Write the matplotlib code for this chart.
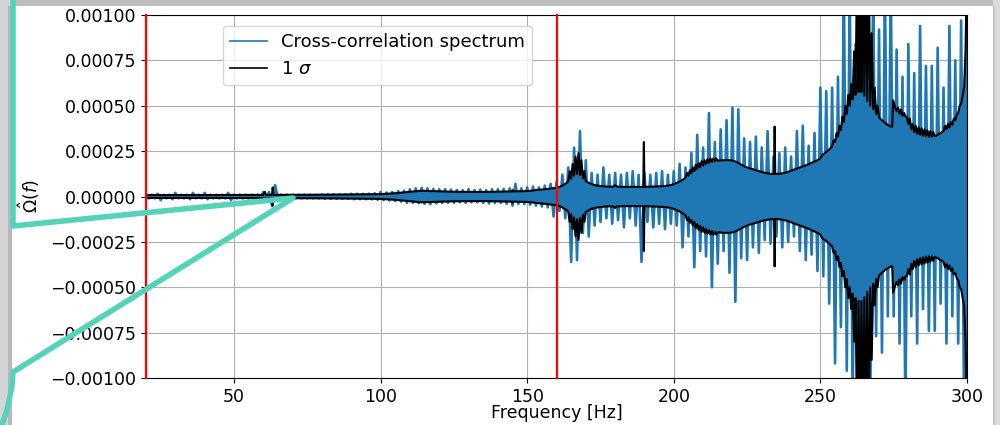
import numpy as np
import matplotlib
matplotlib.use("Agg")
import matplotlib.pyplot as plt
from matplotlib.lines import Line2D
from matplotlib.patches import Rectangle
from matplotlib.ticker import FuncFormatter

# frequency bins of the spectrum, 1 Hz apart
freq = np.arange(20, 301)

# cross-correlation spectrum (units of 1e-5)
spec = [
    1, -1, 1, -1, 1.5, -2, 1, -1, 1, -1.5,
    2, -1, 1, -1, 1, -1.5, 2, -1, 1, -1,
    2, -1.5, 1, -1, 1, -1, 1, -1, 2, -2,
    1, -1, 1, -1, 1, -1, 1, -1, 1, -1,
    2.5, -1, 2.5, -5.2, 6.3, -1, 1, -1, 1, -1,
    1, -1, 1, -1, 1, -1, 1, -1, 1, -1,
    1.2, -1.2, 1.2, -1.2, 1.2, -1.2, 1.2, -1.2, 1.2, -1.2,
    1.5, -1.5, 1.5, -1.5, 1.5, -1.5, 1.6, -1.6, 1.8, -1.8,
    2.5, -2, 2.2, -2.2, 2.5, -2.5, 3, -2.8, 3.2, -3.5,
    4, -3.5, 4.5, -3.7, 4.7, -4, 4.5, -4.2, 4.2, -3.8,
    4, -3.5, 4, -3.5, 3.8, -3.5, 3.6, -3.2, 3.5, -3.5,
    4, -3.2, 3.5, -3.2, 3.8, -3.5, 3.5, -3.8, 4, -3.5,
    4, -3.5, 4.2, -4, 4.5, -5, 7, -4, 4.5, -4.2,
    5, -4.5, 5.5, -5, 5, -5.5, 6, -6, 7, -11,
    8, -8, 12, -12, 16, -36, 27, -35, 36, -20,
    20, -22, 13, -16, 12, -14, 16, -12, 12, -15,
    13, -13, 12, -17, 13, -12, 14, -16, 12, -36,
    13, -14, 12, -17, 13, -15, 14, -18, 12, -15,
    14, -16, 18, -28, 16, -22, 24, -39, 34, -30,
    27, -33, 46, -50, 30, -37, 37, -30, 42, -42,
    49, -58, 48, -34, 32, -35, 30, -28, 33, -31,
    27, -24, 36, -26, 22, -22, 24, -28, 27, -25,
    22, -22, 36, -30, 39, -35, 28, -32, 35, -41,
    60, -44, 58, -59, 60, -92, 66, -72, 120, -96,
    120, -120, 84, -120, 120, -120, 120, -120, 120, -77,
    92, -86, 120, -66, 120, -66, 81, -81, 66, -120,
    84, -66, 68, -81, 94, -62, 72, -74, 72, -74,
    82, -59, 60, -81, 94, -66, 75, -81, 97, -120,
    120,
]

# 1 sigma curve (units of 1e-5), drawn as +/- sigma
sig_f = [20, 40, 60, 60.5, 61, 63, 63.2, 63.5, 80, 100, 105, 110, 114, 118, 125, 135, 144.8, 145, 145.2,
         150, 152, 154, 156, 158, 160, 161, 162, 163, 164,
         164.5, 165, 165.5, 166, 166.5, 167, 167.5, 168, 168.5, 169, 169.5, 170,
         171, 172, 173, 174, 176, 178, 179.5, 180, 180.5, 183, 189.6, 189.8, 190.0,
         192, 195, 197, 198, 199, 200, 201, 202, 203, 204,
         204.5, 205, 205.5, 206, 206.5, 207, 207.5, 208, 208.5, 209, 209.5,
         210, 210.5, 211, 211.5, 212, 212.5, 213, 213.5, 214, 214.5, 215,
         216, 217, 219, 220, 221, 222, 223, 224, 225, 226, 227, 228, 229, 230,
         231, 232, 233, 234.2, 234.4, 234.6, 236, 237, 238, 239, 240, 242, 244,
         246, 248, 249, 250, 250.7, 252, 253, 254,
         254.5, 255, 255.5, 256, 256.5, 257, 257.5, 258, 258.5, 259, 259.5,
         260, 260.5, 261, 261.5, 262, 262.5, 263, 263.5, 264, 264.5, 265,
         265.5, 266, 266.5, 267, 267.5, 268, 268.5, 269, 269.5, 270,
         271, 272, 273, 274, 274.5, 274.8, 275.5, 276, 276.5, 277,
         277.5, 278, 278.6, 279, 279.5, 280, 280.5, 281, 281.5, 282,
         282.5, 283, 283.5, 284, 284.5, 285, 285.5, 286, 286.5, 287,
         287.5, 288, 288.5, 289, 290, 291, 292, 292.5, 293, 293.5,
         294, 294.5, 295, 295.5, 296, 296.5, 297, 297.5, 298, 299,
         299.5, 300]
sig_amp = [0.8, 0.8, 0.9, 2.6, 0.9, 0.9, 5.0, 0.9, 1.0, 1.3, 1.8, 2.6, 3.2, 3.0, 2.6, 2.5, 2.8, 3.6, 2.8,
           3.0, 3.3, 3.7, 4.0, 4.4, 4.8, 5.3, 6.0, 7.0, 8.2,
           14, 9.8, 18, 11.5, 22, 12.5, 24, 11.8, 20, 10, 14, 8.5,
           7.5, 6.8, 6.3, 6.0, 5.6, 5.4, 5.5, 6.3, 5.5, 5.3, 5.3, 30, 5.3,
           5.4, 5.6, 5.8, 6.0, 6.3, 6.8, 7.5, 8.2, 9.2, 10.3,
           13, 11.5, 14.5, 12.8, 16, 14.0, 17.5, 15.2, 18.5, 16.2, 19.5,
           17.0, 20, 17.8, 20.5, 18.5, 21, 19.0, 21, 19.4, 21, 19.7,
           19.9, 20, 20, 19.8, 19.3, 18.5, 17.5, 16.7, 16.0, 15.4, 15.0, 14.5, 14.0, 13.5,
           13.1, 12.8, 12.5, 12.4, 38.5, 12.4, 12.5, 12.8, 13.1, 13.6, 14.2, 15.4, 16.6,
           17.8, 19.3, 20, 21, 23, 24.5, 26, 27.5,
           31, 30, 35, 33, 39, 36.5, 44, 41, 50, 45.5, 56,
           50, 62, 53.5, 80, 56, 130, 57.5, 130, 57.5, 130, 55.5,
           130, 52.5, 130, 50, 90, 48, 60, 45.5, 50, 43.5,
           42, 40.5, 39.5, 38.5, 38.5, 53, 49, 47, 49, 45.5,
           48, 44.5, 46, 44, 44, 40, 43, 37, 40, 35.5,
           39, 34.5, 38, 34, 37.5, 33.5, 37, 33.2, 36.5, 33,
           36, 33, 35.5, 33.2, 34, 35, 36, 39, 37, 40,
           38, 41, 39.5, 43, 42, 45, 46, 50, 51, 60,
           80, 130]

red_lines = [20, 160]
xticks = [50, 100, 150, 200, 250, 300]
yticks = [-0.001, -0.00075, -0.0005, -0.00025, 0, 0.00025, 0.0005, 0.00075, 0.001]

spec = np.array(spec) * 1e-5
sig_f = np.array(sig_f)
sig_amp = np.array(sig_amp) * 1e-5

fig = plt.figure(figsize=(10, 4.25), dpi=100)
fig.patch.set_facecolor("white")
ax = fig.add_axes([0.146, 0.1106, 0.821, 0.854])

blue = "#1f77b4"
ax.fill_between(sig_f, -sig_amp, sig_amp, color=blue, lw=0, zorder=2)
ax.plot(freq, spec, color=blue, lw=1.9, label="Cross-correlation spectrum", zorder=2)
ax.plot(sig_f, sig_amp, color="black", lw=1.5, label=r"1 $\sigma$", zorder=3)
ax.plot(sig_f, -sig_amp, color="black", lw=1.5, zorder=3)
for f in red_lines:
    ax.axvline(f, color="red", lw=1.6, zorder=4, clip_on=False)

ax.set_xlim(20, 300)
ax.set_ylim(-0.001, 0.001)
ax.set_xticks(xticks)
ax.set_yticks(yticks)


def fmt(v, pos):
    s = f"{v:.5f}"
    if s == "-0.00000":
        s = "0.00000"
    return s.replace("-", "\u2212")


ax.yaxis.set_major_formatter(FuncFormatter(fmt))
ax.tick_params(labelsize=12.5)
ax.grid(True, color="#b0b0b0", lw=0.8)
ax.set_xlabel("Frequency [Hz]", fontsize=12.5, labelpad=-1)
ax.set_ylabel(r"$\hat{\Omega}(f)$", fontsize=12.5, labelpad=6)
leg = ax.legend(loc="upper left", bbox_to_anchor=(0.083, 0.995), fontsize=13)
for h in leg.legend_handles:
    h.set_linewidth(1.2)

# screenshot frame around the chart
W, H = 1000, 425
frame = [((0, H - 6), W, 6, "#bdbdbd"),
         ((0, 0), 12, H, "#d4d4d4"),
         ((8, 0), 4, H - 6, "#b8b8b8"),
         ((993, 0), 7, H, "#dcdcdc"),
         ((993, 0), 2, H - 6, "#c4c4c4")]
for (x0, y0), w, h, c in frame:
    fig.patches.append(Rectangle((x0 / W, y0 / H), w / W, h / H, transform=fig.transFigure,
                                 color=c, lw=0, zorder=0))

# teal callout overlay (pixel positions from top-left)
callout = [(13, 0), (13, 226), (293, 198), (13, 372), (12, 386), (7, 410), (2, 425)]
fig.add_artist(Line2D([p[0] / W for p in callout], [1 - p[1] / H for p in callout],
                      transform=fig.transFigure, color="#55d3b8", lw=4,
                      solid_joinstyle="round", solid_capstyle="round", zorder=10))

fig.savefig("out.png", dpi=100)
